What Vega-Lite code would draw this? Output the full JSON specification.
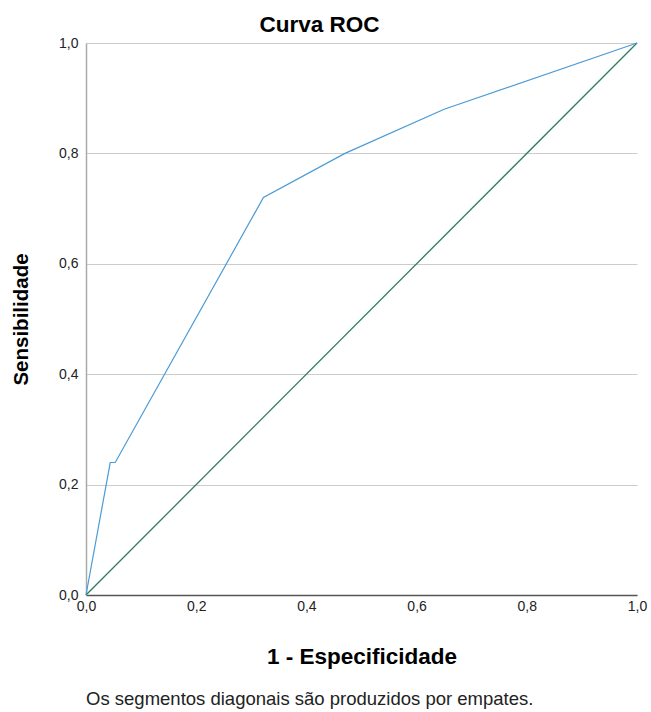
{
  "$schema": "https://vega.github.io/schema/vega-lite/v6.json",
  "autosize": "none",
  "width": 551,
  "height": 552,
  "padding": {"left": 86, "top": 43, "right": 14, "bottom": 117},
  "background": "white",
  "config": {"view": {"stroke": null}, "font": "Liberation Sans"},
  "title": {"text": "Curva ROC", "font": "Liberation Sans", "fontSize": 22.5, "fontWeight": "bold", "color": "#000000", "anchor": "middle", "dx": -42, "offset": 0},
  "datasets": {
    "roc": [
      {"fpr": 0.0, "tpr": 0.0, "serie": "ROC"},
      {"fpr": 0.044, "tpr": 0.24, "serie": "ROC"},
      {"fpr": 0.053, "tpr": 0.24, "serie": "ROC"},
      {"fpr": 0.322, "tpr": 0.72, "serie": "ROC"},
      {"fpr": 0.47, "tpr": 0.80, "serie": "ROC"},
      {"fpr": 0.65, "tpr": 0.88, "serie": "ROC"},
      {"fpr": 1.0, "tpr": 1.0, "serie": "ROC"}
    ],
    "ref": [
      {"fpr": 0.0, "tpr": 0.0},
      {"fpr": 1.0, "tpr": 1.0}
    ],
    "note": [
      {"texto": "Os segmentos diagonais são produzidos por empates.", "x": 0.406, "y": -0.188}
    ]
  },
  "layer": [
    {
      "data": {"name": "ref"},
      "mark": {"type": "line", "color": "#2f7d5c", "strokeWidth": 1.3},
      "encoding": {
        "x": {"field": "fpr", "type": "quantitative", "scale": {"domain": [0, 1], "nice": false},
          "axis": {"title": "1 - Especificidade", "titleFont": "Liberation Sans", "titleFontSize": 22.5, "titleFontWeight": "bold", "titleColor": "#000", "titlePadding": 32,
            "values": [0, 0.2, 0.4, 0.6, 0.8, 1.0], "labelExpr": "replace(format(datum.value, '.1f'), '.', ',')",
            "labelFontSize": 14, "labelColor": "#222", "labelPadding": 4, "ticks": false, "grid": false,
            "domainColor": "#555555", "domainWidth": 1.5, "labelFlush": false}},
        "y": {"field": "tpr", "type": "quantitative", "scale": {"domain": [0, 1], "nice": false},
          "axis": {"title": "Sensibilidade", "titleFont": "Liberation Sans", "titleFontSize": 20.5, "titleFontWeight": "bold", "titleColor": "#000", "titlePadding": 27,
            "values": [0, 0.2, 0.4, 0.6, 0.8, 1.0], "labelExpr": "replace(format(datum.value, '.1f'), '.', ',')",
            "labelFontSize": 14, "labelColor": "#222", "labelPadding": 8, "ticks": false, "grid": true, "gridColor": "#cccccc", "gridWidth": 1.2,
            "domainColor": "#aaaaaa", "domainWidth": 1.5, "labelFlush": false}}
      }
    },
    {
      "data": {"name": "roc"},
      "mark": {"type": "line", "color": "#4a9bd6", "strokeWidth": 1.2},
      "encoding": {
        "x": {"field": "fpr", "type": "quantitative"},
        "y": {"field": "tpr", "type": "quantitative"}
      }
    },
    {
      "data": {"name": "note"},
      "mark": {"type": "text", "fontSize": 18.5, "font": "Liberation Sans", "color": "#222222", "clip": false},
      "encoding": {
        "x": {"field": "x", "type": "quantitative"},
        "y": {"field": "y", "type": "quantitative"},
        "text": {"field": "texto"}
      }
    }
  ]
}
